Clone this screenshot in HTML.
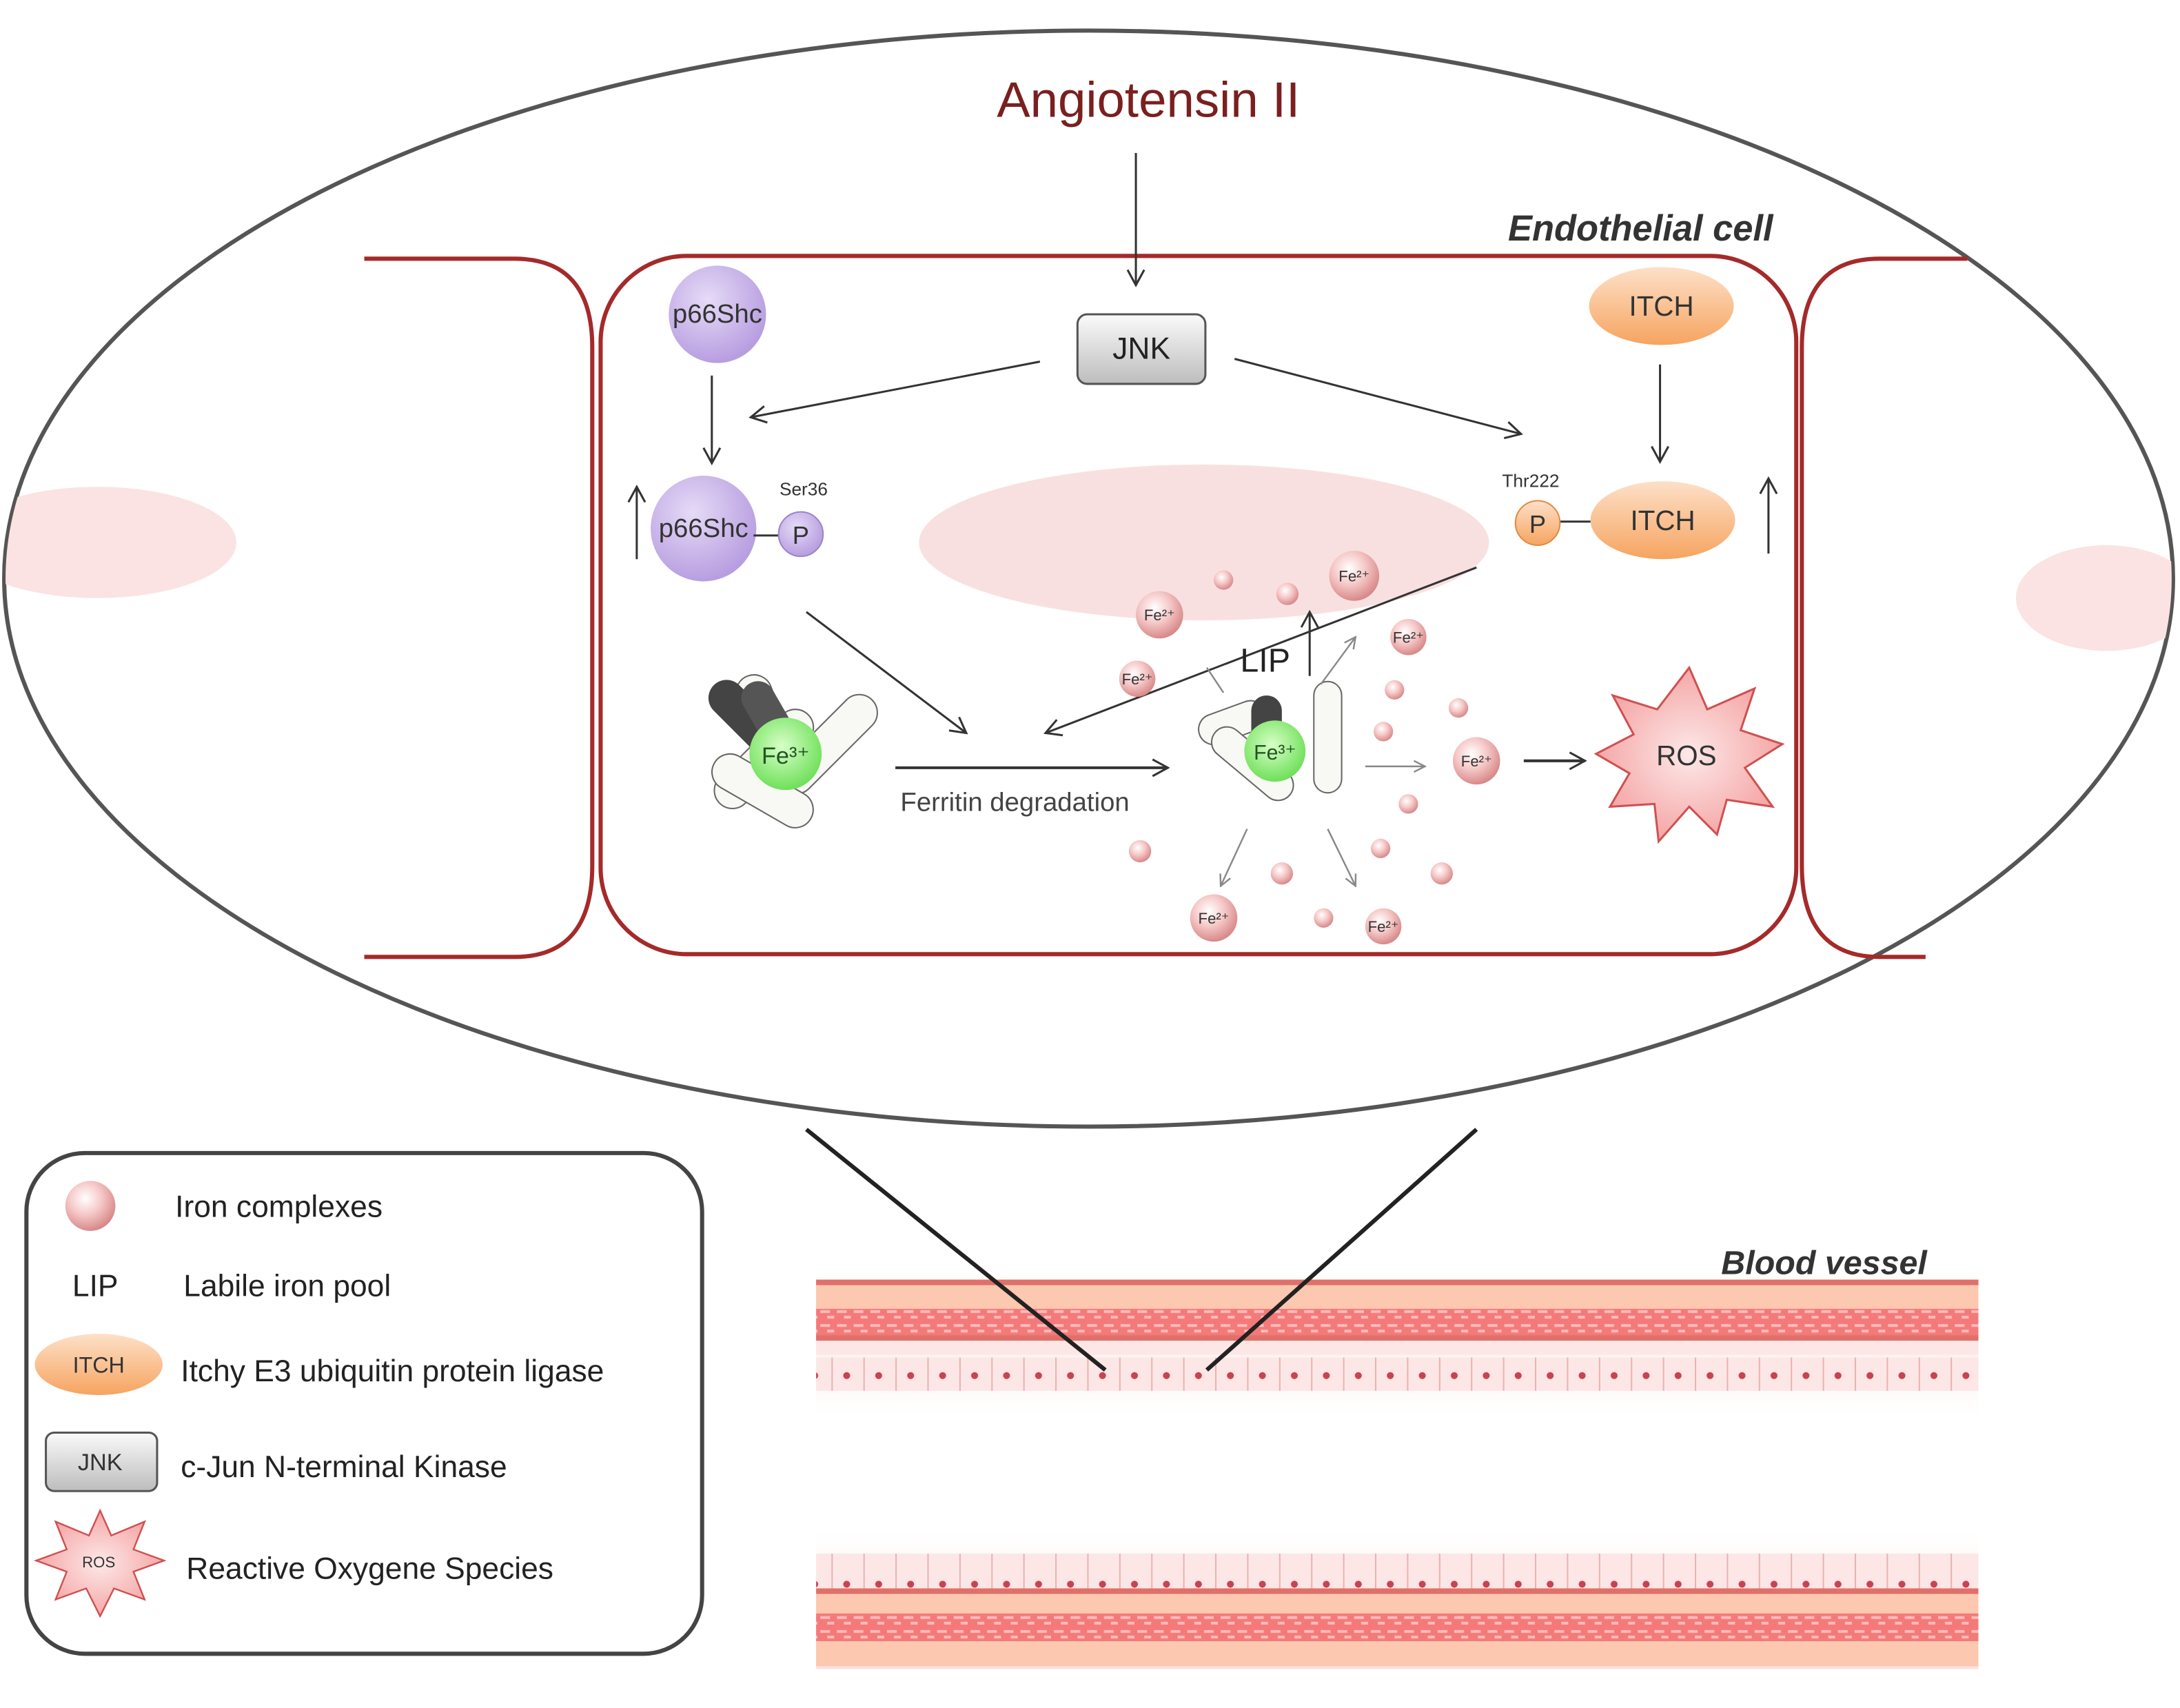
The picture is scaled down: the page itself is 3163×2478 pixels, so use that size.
<!DOCTYPE html>
<html><head><meta charset="utf-8"><style>html,body{margin:0;padding:0;background:#fff}svg{display:block}text{font-family:"Liberation Sans",sans-serif}</style></head>
<body>
<svg width="3163" height="2478" viewBox="0 0 1568 1228" preserveAspectRatio="none" xmlns="http://www.w3.org/2000/svg">
<defs>
<clipPath id="ec"><ellipse cx="783" cy="416" rx="779" ry="393"/></clipPath>
<marker id="a" markerWidth="14" markerHeight="14" refX="12" refY="7" orient="auto" markerUnits="userSpaceOnUse"><path d="M1,1 L12,7 L1,13" fill="none" stroke="#333" stroke-width="1.5"/></marker>
<marker id="ag" markerWidth="10" markerHeight="10" refX="9" refY="5" orient="auto" markerUnits="userSpaceOnUse"><path d="M1,1 L9,5 L1,9" fill="none" stroke="#888" stroke-width="1.2"/></marker>
<radialGradient id="fe" cx="40%" cy="35%" r="65%"><stop offset="0" stop-color="#fff"/><stop offset="0.5" stop-color="#f6c8c8"/><stop offset="1" stop-color="#d88a8a"/></radialGradient>
<radialGradient id="gr" cx="45%" cy="40%" r="60%"><stop offset="0" stop-color="#d8ffc8"/><stop offset="1" stop-color="#6fe05a"/></radialGradient>
<linearGradient id="jnk" x1="0" y1="0" x2="0" y2="1"><stop offset="0" stop-color="#fafafa"/><stop offset="1" stop-color="#bdbdbd"/></linearGradient>
<linearGradient id="itch" x1="0" y1="0" x2="0" y2="1"><stop offset="0" stop-color="#fde0c8"/><stop offset="1" stop-color="#f6a460"/></linearGradient>
<radialGradient id="p66" cx="40%" cy="35%" r="65%"><stop offset="0" stop-color="#e6dbf7"/><stop offset="1" stop-color="#b89ee0"/></radialGradient>
<linearGradient id="lum" x1="0" y1="0" x2="0" y2="1"><stop offset="0" stop-color="#fce0e0"/><stop offset="0.35" stop-color="#fff"/><stop offset="0.65" stop-color="#fff"/><stop offset="1" stop-color="#fce0e0"/></linearGradient>
<radialGradient id="ros" cx="50%" cy="50%" r="55%"><stop offset="0" stop-color="#fde8e8"/><stop offset="1" stop-color="#f4a0a0"/></radialGradient>
<pattern id="mesh" width="12" height="10" patternUnits="userSpaceOnUse"><rect width="12" height="10" fill="#f47a7a"/><rect x="2" y="2" width="7" height="2" fill="#fbb"/><rect x="7" y="6" width="7" height="2" fill="#fbb"/></pattern>
<pattern id="cells" width="23" height="25" patternUnits="userSpaceOnUse"><rect width="23" height="25" fill="#fde6e6"/><line x1="0.5" y1="0" x2="0.5" y2="25" stroke="#e8b3b3"/><circle cx="11" cy="14" r="2.5" fill="#c9424f"/></pattern>
</defs>

<ellipse cx="783" cy="416" rx="780" ry="394" fill="#fff" stroke="#555" stroke-width="3"/>
<g clip-path="url(#ec)">
<ellipse cx="70" cy="390" rx="100" ry="40" fill="#fbe3e3"/>
<ellipse cx="1515" cy="430" rx="65" ry="38" fill="#fbe3e3"/>
</g>
<ellipse cx="866" cy="390" rx="205" ry="56" fill="#f9e0e0"/>

<path d="M262,186 L370,186 Q426,186 426,250 L426,622 Q426,688 370,688 L262,688" fill="none" stroke="#a52a2a" stroke-width="3"/>
<path d="M1415,186 L1352,186 Q1296,186 1296,250 L1296,622 Q1296,688 1352,688 L1385,688" fill="none" stroke="#a52a2a" stroke-width="3"/>
<rect x="432" y="184" width="860" height="502" rx="62" fill="none" stroke="#a52a2a" stroke-width="3"/>

<text x="826" y="84" font-size="36" fill="#7a1f1f" text-anchor="middle">Angiotensin II</text>
<text x="1180" y="173" font-size="26" font-weight="bold" font-style="italic" fill="#333" text-anchor="middle">Endothelial cell</text>
<line x1="817" y1="110" x2="817" y2="205" stroke="#333" stroke-width="1.5" marker-end="url(#a)"/>

<rect x="775" y="226" width="92" height="50" rx="7" fill="url(#jnk)" stroke="#555" stroke-width="1.5"/>
<text x="821" y="258" font-size="22" text-anchor="middle" fill="#222">JNK</text>
<line x1="748" y1="260" x2="540" y2="300" stroke="#333" stroke-width="1.5" marker-end="url(#a)"/>
<line x1="888" y1="258" x2="1094" y2="312" stroke="#333" stroke-width="1.5" marker-end="url(#a)"/>

<circle cx="516" cy="226" r="35" fill="url(#p66)"/>
<text x="516" y="232" font-size="19" text-anchor="middle" fill="#333">p66Shc</text>
<line x1="512" y1="270" x2="512" y2="333" stroke="#333" stroke-width="1.5" marker-end="url(#a)"/>
<circle cx="506" cy="380" r="38" fill="url(#p66)"/>
<text x="506" y="386" font-size="19" text-anchor="middle" fill="#333">p66Shc</text>
<line x1="542" y1="385" x2="560" y2="385" stroke="#333" stroke-width="1.5"/>
<circle cx="576" cy="384" r="16" fill="url(#p66)" stroke="#9a84c8"/>
<text x="576" y="391" font-size="18" text-anchor="middle" fill="#333">P</text>
<text x="578" y="356" font-size="13" text-anchor="middle" fill="#333">Ser36</text>
<line x1="458" y1="402" x2="458" y2="350" stroke="#333" stroke-width="1.5" marker-end="url(#a)"/>

<ellipse cx="1195" cy="220" rx="52" ry="28" fill="url(#itch)"/>
<text x="1195" y="227" font-size="20" text-anchor="middle" fill="#333">ITCH</text>
<line x1="1194" y1="262" x2="1194" y2="332" stroke="#333" stroke-width="1.5" marker-end="url(#a)"/>
<ellipse cx="1196" cy="374" rx="52" ry="28" fill="url(#itch)"/>
<text x="1196" y="381" font-size="20" text-anchor="middle" fill="#333">ITCH</text>
<line x1="1122" y1="375" x2="1144" y2="375" stroke="#333" stroke-width="1.5"/>
<circle cx="1106" cy="376" r="16" fill="url(#itch)" stroke="#e08a40"/>
<text x="1106" y="383" font-size="18" text-anchor="middle" fill="#333">P</text>
<text x="1101" y="350" font-size="13" text-anchor="middle" fill="#333">Thr222</text>
<line x1="1272" y1="398" x2="1272" y2="344" stroke="#333" stroke-width="1.5" marker-end="url(#a)"/>

<line x1="580" y1="440" x2="695" y2="527" stroke="#333" stroke-width="1.5" marker-end="url(#a)"/>
<line x1="1062" y1="408" x2="752" y2="527" stroke="#333" stroke-width="1.5" marker-end="url(#a)"/>
<line x1="644" y1="552" x2="840" y2="552" stroke="#333" stroke-width="2" marker-end="url(#a)"/>
<text x="730" y="583" font-size="19" text-anchor="middle" fill="#444">Ferritin degradation</text>

<g transform="translate(565,540)">
<rect x="-60" y="-20" width="90" height="26" rx="13" transform="rotate(-45)" fill="#f8f8f4" stroke="#666"/>
<rect x="-20" y="-60" width="26" height="95" rx="13" transform="rotate(-20)" fill="#f8f8f4" stroke="#666"/>
<rect x="-70" y="-10" width="80" height="26" rx="13" transform="rotate(45)" fill="#444"/>
<rect x="-10" y="-55" width="24" height="70" rx="12" transform="rotate(-30)" fill="#555"/>
<rect x="-20" y="5" width="90" height="26" rx="13" transform="rotate(-45)" fill="#f8f8f4" stroke="#666"/>
<rect x="-40" y="20" width="80" height="26" rx="13" transform="rotate(30)" fill="#f8f8f4" stroke="#666"/>
<circle cx="0" cy="2" r="26" fill="url(#gr)"/>
<text x="0" y="9" font-size="17" text-anchor="middle" fill="#225522">Fe³⁺</text>
</g>
<g transform="translate(915,540)">
<rect x="-45" y="-40" width="50" height="22" rx="11" transform="rotate(-20)" fill="#f8f8f4" stroke="#666"/>
<rect x="30" y="-50" width="20" height="80" rx="10" fill="#f8f8f4" stroke="#666"/>
<rect x="-15" y="-40" width="22" height="40" rx="11" fill="#444"/>
<rect x="-40" y="5" width="70" height="22" rx="11" transform="rotate(40)" fill="#f8f8f4" stroke="#666"/>
<circle cx="2" cy="0" r="22" fill="url(#gr)"/>
<text x="2" y="6" font-size="15" text-anchor="middle" fill="#225522">Fe³⁺</text>
</g>
<line x1="942" y1="486" x2="942" y2="440" stroke="#333" stroke-width="1.5" marker-end="url(#a)"/>
<text x="910" y="483" font-size="24" text-anchor="middle" fill="#222">LIP</text>
<g stroke="#888" stroke-width="1.2">
<line x1="950" y1="492" x2="975" y2="458" marker-end="url(#ag)"/>
<line x1="982" y1="551" x2="1025" y2="551" marker-end="url(#ag)"/>
<line x1="897" y1="596" x2="878" y2="637" marker-end="url(#ag)"/>
<line x1="955" y1="596" x2="975" y2="637" marker-end="url(#ag)"/>
<line x1="880" y1="498" x2="868" y2="480"/>
</g>

<g fill="url(#fe)">
<circle cx="834" cy="442" r="17"/><circle cx="974" cy="414" r="18"/><circle cx="818" cy="488" r="13"/>
<circle cx="1013" cy="458" r="13"/><circle cx="1062" cy="547" r="17"/><circle cx="873" cy="660" r="17"/>
<circle cx="995" cy="666" r="13"/>
<circle cx="880" cy="417" r="7"/><circle cx="926" cy="427" r="8"/><circle cx="1003" cy="496" r="7"/>
<circle cx="1049" cy="509" r="7"/><circle cx="995" cy="526" r="7"/><circle cx="1013" cy="578" r="7"/>
<circle cx="820" cy="612" r="8"/><circle cx="922" cy="628" r="8"/><circle cx="993" cy="610" r="7"/>
<circle cx="1037" cy="628" r="8"/><circle cx="952" cy="660" r="7"/>
</g>
<g font-size="11" text-anchor="middle" fill="#333">
<text x="834" y="446">Fe²⁺</text><text x="974" y="418">Fe²⁺</text><text x="818" y="492">Fe²⁺</text>
<text x="1013" y="462">Fe²⁺</text><text x="1062" y="551">Fe²⁺</text><text x="873" y="664">Fe²⁺</text><text x="995" y="670">Fe²⁺</text>
</g>
<line x1="1096" y1="547" x2="1140" y2="547" stroke="#333" stroke-width="2" marker-end="url(#a)"/>

<polygon points="1215,480 1228,510 1262,495 1252,525 1282,535 1255,552 1275,580 1242,575 1235,600 1215,580 1193,605 1190,578 1158,580 1172,556 1148,542 1175,528 1160,500 1192,510" fill="url(#ros)" stroke="#d05050" stroke-width="1.5"/>
<text x="1213" y="550" font-size="20" text-anchor="middle" fill="#333">ROS</text>

<rect x="587" y="920" width="836" height="280" fill="url(#lum)"/>
<rect x="587" y="920" width="836" height="4" fill="#e0706a"/>
<rect x="587" y="924" width="836" height="17" fill="#fcc8b0"/>
<rect x="587" y="941" width="836" height="21" fill="url(#mesh)"/>
<rect x="587" y="960" width="836" height="4" fill="#e0706a"/>
<rect x="587" y="964" width="836" height="10" fill="#fde6e6"/>
<rect x="587" y="976" width="836" height="24" fill="url(#cells)"/>
<rect x="587" y="1117" width="836" height="25" fill="url(#cells)"/>
<rect x="587" y="1142" width="836" height="4" fill="#e0706a"/>
<rect x="587" y="1146" width="836" height="14" fill="#fcc8b0"/>
<rect x="587" y="1160" width="836" height="20" fill="url(#mesh)"/>
<rect x="587" y="1180" width="836" height="18" fill="#fcc8b0"/>
<text x="1312" y="916" font-size="24" font-weight="bold" font-style="italic" fill="#333" text-anchor="middle">Blood vessel</text>
<line x1="580" y1="812" x2="795" y2="985" stroke="#222" stroke-width="3"/>
<line x1="1062" y1="812" x2="868" y2="985" stroke="#222" stroke-width="3"/>

<rect x="19" y="829" width="486" height="360" rx="42" fill="#fff" stroke="#444" stroke-width="3"/>
<circle cx="65" cy="867" r="18" fill="url(#fe)"/>
<text x="126" y="875" font-size="22" fill="#222">Iron complexes</text>
<text x="52" y="932" font-size="22" fill="#222">LIP</text>
<text x="132" y="932" font-size="22" fill="#222">Labile iron pool</text>
<ellipse cx="71" cy="981" rx="46" ry="22" fill="url(#itch)"/>
<text x="71" y="987" font-size="16" text-anchor="middle" fill="#333">ITCH</text>
<text x="130" y="993" font-size="22" fill="#222">Itchy E3 ubiquitin protein ligase</text>
<rect x="33" y="1030" width="80" height="42" rx="6" fill="url(#jnk)" stroke="#555" stroke-width="1.5"/>
<text x="72" y="1057" font-size="17" text-anchor="middle" fill="#333">JNK</text>
<text x="130" y="1062" font-size="22" fill="#222">c-Jun N-terminal Kinase</text>
<polygon points="72,1086 80,1104 104,1094 96,1114 118,1122 96,1130 104,1150 82,1142 72,1162 62,1142 40,1150 48,1130 26,1122 48,1114 40,1094 64,1104" fill="url(#ros)" stroke="#d05050" stroke-width="1.2"/>
<text x="71" y="1127" font-size="11" text-anchor="middle" fill="#333">ROS</text>
<text x="134" y="1135" font-size="22" fill="#222">Reactive Oxygene Species</text>
</svg>
</body></html>
